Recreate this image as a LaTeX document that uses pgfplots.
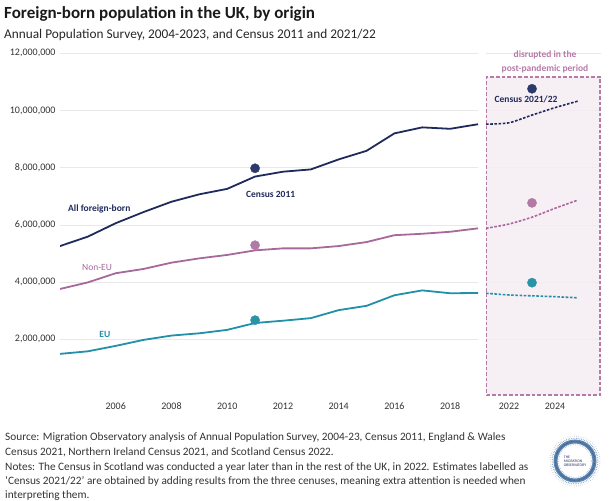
\documentclass[border=0pt]{standalone}
\usepackage{pgfplots}
\pgfplotsset{compat=1.18}
\usepackage{fontspec}
\setmainfont{Carlito}

\definecolor{allfb}{HTML}{1F2A5C}
\definecolor{noneu}{HTML}{A8689C}
\definecolor{eu}{HTML}{2190A8}
\definecolor{censusall}{HTML}{2B3A6B}
\definecolor{censusnoneu}{HTML}{B07AA5}
\definecolor{censuseu}{HTML}{2A93A8}
\definecolor{boxedge}{HTML}{B57AA8}
\definecolor{boxfill}{HTML}{F5ECF2}
\definecolor{txt}{HTML}{333333}
\definecolor{logo}{HTML}{3A679A}

% Annual Population Survey, 2004-2019
\pgfplotstableread{
year   all      noneu    eu
2004   5.26e6   3.76e6   1.49e6
2005   5.59e6   3.99e6   1.58e6
2006   6.06e6   4.31e6   1.77e6
2007   6.45e6   4.46e6   1.98e6
2008   6.81e6   4.68e6   2.13e6
2009   7.07e6   4.83e6   2.21e6
2010   7.26e6   4.95e6   2.33e6
2011   7.69e6   5.11e6   2.57e6
2012   7.86e6   5.18e6   2.65e6
2013   7.94e6   5.18e6   2.74e6
2014   8.29e6   5.26e6   3.02e6
2015   8.59e6   5.40e6   3.17e6
2016   9.20e6   5.64e6   3.54e6
2017   9.41e6   5.69e6   3.71e6
2018   9.36e6   5.76e6   3.61e6
2019   9.52e6   5.88e6   3.62e6
}\apsdata

% Post-pandemic estimates
\pgfplotstableread{
year   all       noneu    eu
2021   9.52e6    5.88e6   3.61e6
2022   9.57e6    6.03e6   3.55e6
2023   9.84e6    6.27e6   3.52e6
2024   10.10e6   6.58e6   3.49e6
2025   10.33e6   6.87e6   3.45e6
}\postdata

\pgfplotsset{
  panel/.style={
    scale only axis, height=343.2pt,
    ymin=0, ymax=12e6,
    ytick={2e6,4e6,6e6,8e6,10e6,12e6},
    ymajorgrids=true,
    grid style={color=black!9, line width=0.7pt},
    axis line style={draw=none},
    tick style={draw=none},
    scaled y ticks=false,
    ticklabel style={font=\fontsize{10}{12}\selectfont, text=txt},
    xticklabel style={yshift=-3pt},
    /pgf/number format/fixed,
    /pgf/number format/1000 sep={,},
    /pgf/number format/assume math mode=true,
  },
}

\begin{document}
\begin{tikzpicture}
\path (0pt,0pt) rectangle (609pt,-500pt);

% titles
\node[anchor=west, inner sep=0pt, text=black!90] at (4pt,-14pt)
  {\fontsize{17}{20}\selectfont\bfseries Foreign-born population in the UK, by origin};
\node[anchor=west, inner sep=0pt, text=black!85] at (4pt,-35pt)
  {\fontsize{13.3}{16}\selectfont Annual Population Survey, 2004-2023, and Census 2011 and 2021/22};

% left panel: survey years
\begin{axis}[panel, at={(60pt,-396.5pt)}, anchor=south west,
  width=418pt, xmin=2004, xmax=2019,
  xtick={2006,2008,...,2018},
  xticklabel={\pgfmathprintnumber[int detect,1000 sep={}]{\tick}},
  yticklabel style={xshift=-1pt}]
  \addplot[allfb, line width=1.8pt] table[x=year,y=all] {\apsdata};
  \addplot[noneu, line width=1.8pt] table[x=year,y=noneu] {\apsdata};
  \addplot[eu, line width=1.8pt] table[x=year,y=eu] {\apsdata};
  \addplot[only marks, mark=*, mark size=4.6pt, censusall] coordinates {(2011,7.98e6)};
  \addplot[only marks, mark=*, mark size=4.6pt, censusnoneu] coordinates {(2011,5.29e6)};
  \addplot[only marks, mark=*, mark size=4.6pt, censuseu] coordinates {(2011,2.67e6)};
  \node[allfb, font=\fontsize{9.5}{11}\selectfont\bfseries] at (axis cs:2005.41,6.55e6) {All foreign-born};
  \node[allfb, font=\fontsize{9.5}{11}\selectfont\bfseries] at (axis cs:2011.56,7.05e6) {Census 2011};
  \node[noneu, font=\fontsize{9.5}{11}\selectfont] at (axis cs:2005.33,4.52e6) {Non-EU};
  \node[eu, font=\fontsize{9.5}{11}\selectfont\bfseries] at (axis cs:2005.61,2.18e6) {EU};
\end{axis}

% right panel: post-pandemic period
\begin{axis}[panel, at={(486pt,-396.5pt)}, anchor=south west,
  width=115pt, xmin=2021, xmax=2026,
  xtick={2022,2024},
  xticklabel={\pgfmathprintnumber[int detect,1000 sep={}]{\tick}},
  yticklabels={}]
  \addplot[fill=boxfill, fill opacity=0.85, draw=none] coordinates
    {(2021,0.05e6) (2026,0.05e6) (2026,11.17e6) (2021,11.17e6)} -- cycle;
  \addplot[boxedge, line width=1.3pt, dash pattern=on 3.6pt off 2pt] coordinates
    {(2021.03,0.05e6) (2025.96,0.05e6) (2025.96,11.17e6) (2021.03,11.17e6)} -- cycle;
  \addplot[allfb, line width=1.6pt, dash pattern=on 2.6pt off 1.6pt, smooth, tension=0.4] table[x=year,y=all] {\postdata};
  \addplot[noneu, line width=1.6pt, dash pattern=on 2.6pt off 1.6pt, smooth, tension=0.4] table[x=year,y=noneu] {\postdata};
  \addplot[eu, line width=1.6pt, dash pattern=on 2.6pt off 1.6pt, smooth, tension=0.4] table[x=year,y=eu] {\postdata};
  \addplot[only marks, mark=*, mark size=4.6pt, censusall] coordinates {(2023,10.76e6)};
  \addplot[only marks, mark=*, mark size=4.6pt, censusnoneu] coordinates {(2023,6.77e6)};
  \addplot[only marks, mark=*, mark size=4.6pt, censuseu] coordinates {(2023,3.98e6)};
  \node[allfb, font=\fontsize{9.5}{11}\selectfont\bfseries] at (axis cs:2022.74,10.4e6) {Census 2021/22};
\end{axis}

\node[align=center, text=boxedge, font=\fontsize{9.5}{14}\selectfont\bfseries, inner sep=0pt]
  at (545pt,-61.5pt) {disrupted in the\\post-pandemic period};

% footer
\begin{scope}[every node/.style={anchor=west, inner sep=0pt, text=txt, font=\fontsize{11.3}{13}\selectfont}]
\node at (5pt,-437.5pt) {Source: Migration Observatory analysis of Annual Population Survey, 2004-23, Census 2011, England \& Wales};
\node at (5pt,-452.5pt) {Census 2021, Northern Ireland Census 2021, and Scotland Census 2022.};
\node at (5pt,-467pt) {Notes: The Census in Scotland was conducted a year later than in the rest of the UK, in 2022. Estimates labelled as};
\node at (5pt,-481.5pt) {‘Census 2021/22’ are obtained by adding results from the three cenuses, meaning extra attention is needed when};
\node at (5pt,-495.5pt) {interpreting them.};
\end{scope}

% logo
\begin{scope}[shift={(575pt,-461pt)}]
  \draw[logo!80, line width=4pt] (0,0) circle (19.5pt);
  \draw[logo, line width=1.6pt, dash pattern=on 0.6pt off 0.7pt] (0,0) circle (19.5pt);
  \draw[logo!70, line width=1.2pt, dash pattern=on 0.5pt off 1.2pt] (0,0) circle (22.8pt);
  \draw[logo!45, line width=0.9pt, dash pattern=on 0.4pt off 1.8pt] (0,0) circle (25pt);
  \draw[logo!55, line width=0.9pt, dash pattern=on 0.4pt off 1.4pt] (0,0) circle (16.5pt);
  \node[align=left, text=allfb, font=\fontsize{3.8}{4.2}\selectfont, inner sep=0pt] at (0,0)
    {THE\\MIGRATION\\OBSERVATORY};
\end{scope}
\end{tikzpicture}
\end{document}
